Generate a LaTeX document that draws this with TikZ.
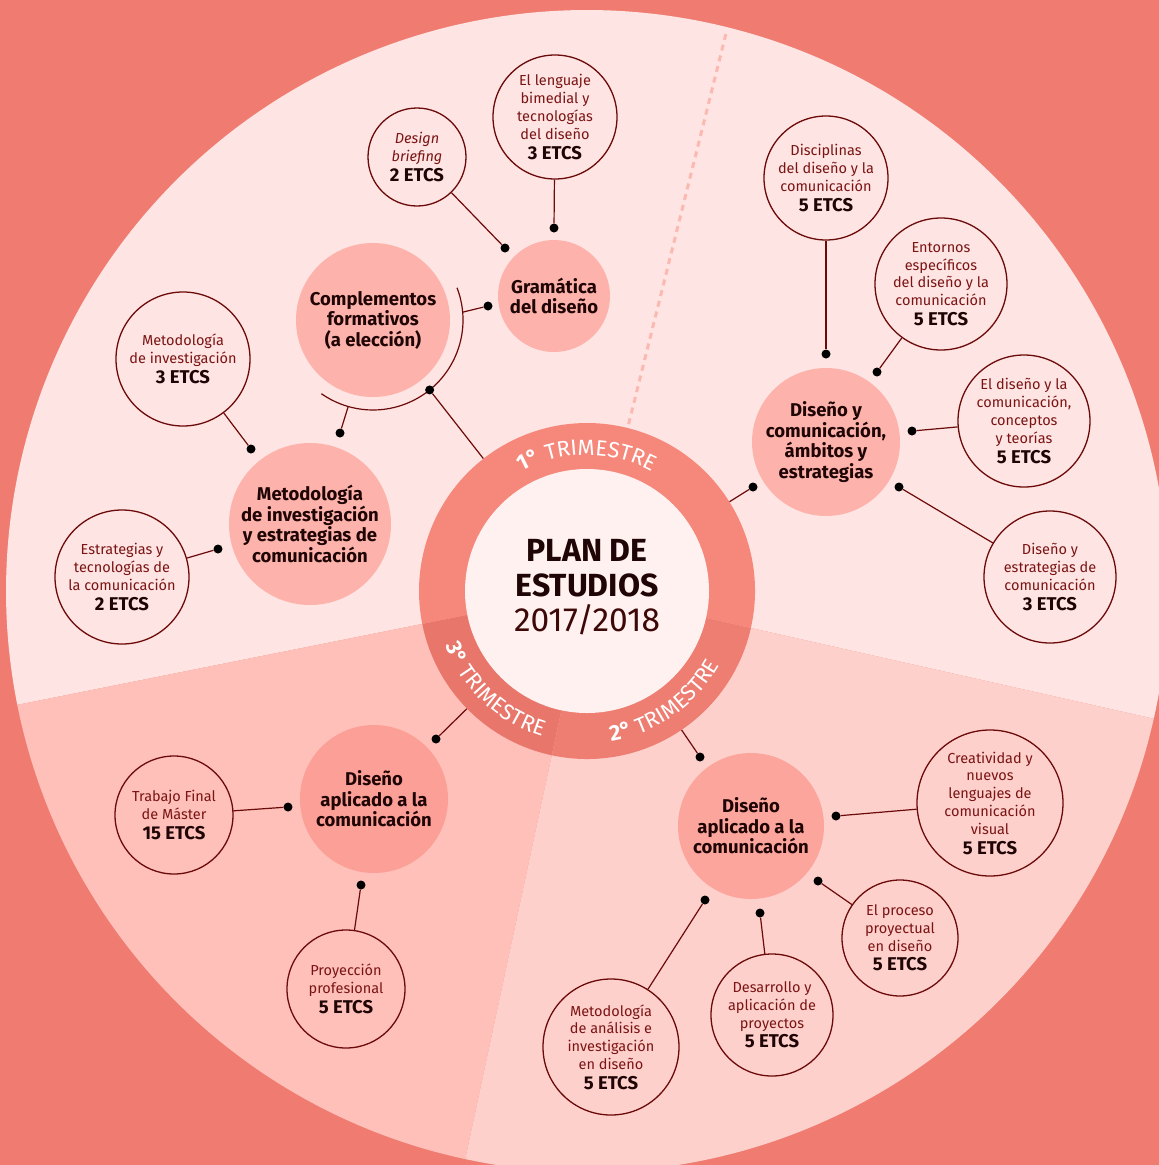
\documentclass[tikz,border=0pt]{standalone}
\usepackage{fontspec}
\setmainfont{Fira Sans}
\usetikzlibrary{decorations.text}

\definecolor{salmon}{HTML}{F07C71}
\definecolor{secTop}{HTML}{FEE4E2}
\definecolor{secThree}{HTML}{FEC0B9}
\definecolor{secTwo}{HTML}{FED0CB}
\definecolor{ringTop}{HTML}{F6877B}
\definecolor{ringThree}{HTML}{E8766B}
\definecolor{ringTwo}{HTML}{EE7D72}
\definecolor{ctrWhite}{HTML}{FFF1EF}
\definecolor{nodeTop}{HTML}{FDB3AB}
\definecolor{nodeThree}{HTML}{FC9F96}
\definecolor{nodeTwo}{HTML}{FCA59C}
\definecolor{dashCol}{HTML}{FBB9B1}
\definecolor{linkRed}{HTML}{6B0A0A}
\definecolor{textRed}{HTML}{7A1414}
\definecolor{txtDark}{HTML}{1F0505}
\definecolor{yearRed}{HTML}{3C0808}

\newcommand\etcs[1]{\\[2pt]{\fontsize{18.5}{18.5}\selectfont\bfseries\color{txtDark}#1 ETCS}}
\newcommand\ringb{\fontsize{22}{22}\selectfont\bfseries}
\newcommand\ringr{\fontsize{22}{22}\selectfont\mdseries}

\begin{document}
\begin{tikzpicture}[x=1pt, y=1pt,
  sat/.style = {circle, draw=linkRed, line width=1.3pt, inner sep=0pt, align=center,
                text=textRed, font=\fontsize{14.5}{17.8}\selectfont},
  hub/.style = {circle, inner sep=0pt, align=center, text=txtDark,
                font=\fontsize{18.5}{20.5}\selectfont\bfseries},
  dot/.style = {circle, fill=black, inner sep=0pt, minimum size=9pt},
  link/.style = {draw=linkRed, line width=1.2pt},
  ringtext/.style = {decorate, decoration={text along path, text color=white,
                text align=center, text={#1}}},
  ]
  \useasboundingbox (0,0) rectangle (1159,-1165);
  \fill[salmon] (0,0) rectangle (1159,-1165);
  \clip (0,0) rectangle (1159,-1165);
  \coordinate (c) at (587,-591);

  \fill[secTop] (c) -- ++(-12.7:581) arc[start angle=-12.7, end angle=191.3, radius=581] -- cycle;
  \fill[secThree] (c) -- ++(191.3:581) arc[start angle=191.3, end angle=257.9, radius=581] -- cycle;
  \fill[secTwo] (c) -- ++(257.9:581) arc[start angle=257.9, end angle=347.3, radius=581] -- cycle;
  \draw[dashCol, line width=3pt, dash pattern=on 6pt off 5pt]
    ([shift={(76:172)}]c) -- ([shift={(76:578)}]c);

  \fill[ringTop] (c) -- ++(-12.7:168) arc[start angle=-12.7, end angle=191.3, radius=168] -- cycle;
  \fill[ringThree] (c) -- ++(191.3:168) arc[start angle=191.3, end angle=257.9, radius=168] -- cycle;
  \fill[ringTwo] (c) -- ++(257.9:168) arc[start angle=257.9, end angle=347.3, radius=168] -- cycle;
  \fill[ctrWhite] (c) circle (122);
  \node[circle, minimum size=336pt, inner sep=0pt] (ring) at (c) {};

  \path[ringtext={|\ringb|1°|\ringr| TRIMESTRE}]
    ([shift={(180:136)}]c) arc[start angle=180, end angle=0, radius=136];
  \path[ringtext={|\ringb|2°|\ringr| TRIMESTRE}]
    ([shift={(-100:152)}]c) arc[start angle=-100, end angle=-10, radius=152];
  \path[ringtext={|\ringb|3°|\ringr| TRIMESTRE}]
    ([shift={(196:152)}]c) arc[start angle=196, end angle=258, radius=152];

  \node[align=center, text=txtDark, font=\fontsize{32}{35}\selectfont] (title) at (587,-587)
    {\textbf{PLAN DE}\\\textbf{ESTUDIOS}\\{\fontsize{33.5}{35}\selectfont\color{yearRed}2017/2018}};

  \node[hub, fill=nodeTop, minimum size=154pt] (cform) at (373,-320) {Complementos\\formativos\\(a elección)};
  \node[hub, fill=nodeTop, minimum size=112pt] (gram) at (554,-296) {Gramática\\del diseño};
  \node[hub, fill=nodeTop, minimum size=162pt] (metinv) at (310,-524)
    {Metodología\\de investigación\\y estrategias de\\comunicación};
  \node[hub, fill=nodeTop, minimum size=148pt] (dcom) at (826,-442)
    {Diseño y\\comunicación,\\ámbitos y\\estrategias};
  \node[hub, fill=nodeThree, minimum size=148pt] (dap3) at (374,-799) {Diseño\\aplicado a la\\comunicación};
  \node[hub, fill=nodeTwo, minimum size=146pt] (dap2) at (751,-826) {Diseño\\aplicado a la\\comunicación};

  \node[sat, minimum size=98pt] (brief) at (417,-157) {{\itshape Design}\\{\itshape briefing}\etcs{2}};
  \node[sat, minimum size=124pt] (bimed) at (555,-117) {El lenguaje\\bimedial y\\tecnologías\\del diseño\etcs{3}};
  \node[sat, minimum size=134pt] (metodo) at (183,-359) {Metodología\\de investigación\etcs{3}};
  \node[sat, minimum size=134pt] (estrat) at (122,-577) {Estrategias y\\tecnologías de\\la comunicación\etcs{2}};
  \node[sat, minimum size=124pt] (discip) at (826,-178) {Disciplinas\\del diseño y la\\comunicación\etcs{5}};
  \node[sat, minimum size=132pt] (entorn) at (941,-284)
    {Entornos\\específicos\\del diseño y la\\comunicación\etcs{5}};
  \node[sat, minimum size=132pt] (concep) at (1024,-421)
    {El diseño y la\\comunicación,\\conceptos\\y teorías\etcs{5}};
  \node[sat, minimum size=132pt] (estrcom) at (1050,-577) {Diseño y\\estrategias de\\comunicación\etcs{3}};
  \node[sat, minimum size=118pt] (tfm) at (174,-815) {Trabajo Final\\de Máster\etcs{15}};
  \node[sat, minimum size=118pt] (proyec) at (346,-989) {Proyección\\profesional\etcs{5}};
  \node[sat, minimum size=146pt] (creat) at (990,-803)
    {Creatividad y\\nuevos\\lenguajes de\\comunicación\\visual\etcs{5}};
  \node[sat, minimum size=116pt] (proces) at (900,-938) {El proceso\\proyectual\\en diseño\etcs{5}};
  \node[sat, minimum size=122pt] (desarr) at (772,-1015) {Desarrollo y\\aplicación de\\proyectos\etcs{5}};
  \node[sat, minimum size=136pt] (metana) at (611,-1047)
    {Metodología\\de análisis e\\investigación\\en diseño\etcs{5}};

  \draw[link] ([shift={(21:90)}]cform.center) arc[start angle=21, end angle=-125, radius=90];
  \coordinate (a1) at ([shift={(5:90)}]cform.center);
  \coordinate (a2) at ([shift={(-106:90)}]cform.center);

  \node[dot] (g1) at (505,-248) {};
  \node[dot] (g2) at (554,-228) {};
  \node[dot] (g3) at (488,-306) {};
  \node[dot] (c1) at ([shift={(-51:90)}]cform.center) {};
  \node[dot] (m1) at (251,-449) {};
  \node[dot] (m2) at (218,-549) {};
  \node[dot] (m3) at (340,-433) {};
  \node[dot] (k1) at (826,-354) {};
  \node[dot] (k2) at (877,-372) {};
  \node[dot] (k3) at (912,-431) {};
  \node[dot] (k4) at (899,-487) {};
  \node[dot] (k5) at (753,-487) {};
  \node[dot] (t1) at (436,-739) {};
  \node[dot] (t2) at (288,-807) {};
  \node[dot] (t3) at (361,-885) {};
  \node[dot] (s1) at (700,-757) {};
  \node[dot] (s2) at (836,-816) {};
  \node[dot] (s3) at (818,-881) {};
  \node[dot] (s4) at (760,-913) {};
  \node[dot] (s5) at (705,-900) {};

  \draw[link] (brief) -- (g1);
  \draw[link] (bimed) -- (g2);
  \draw[link] (a1) -- (g3);
  \draw[link] (c1) -- (ring);
  \draw[link] (metodo) -- (m1);
  \draw[link] (estrat) -- (m2);
  \draw[link] (a2) -- (m3);
  \draw[link] (discip) -- (k1);
  \draw[link] (entorn) -- (k2);
  \draw[link] (concep) -- (k3);
  \draw[link] (estrcom) -- (k4);
  \draw[link] (k5) -- (ring);
  \draw[link] (t1) -- (ring);
  \draw[link] (tfm) -- (t2);
  \draw[link] (proyec) -- (t3);
  \draw[link] (s1) -- (ring);
  \draw[link] (creat) -- (s2);
  \draw[link] (proces) -- (s3);
  \draw[link] (desarr) -- (s4);
  \draw[link] (metana) -- (s5);
\end{tikzpicture}
\end{document}
